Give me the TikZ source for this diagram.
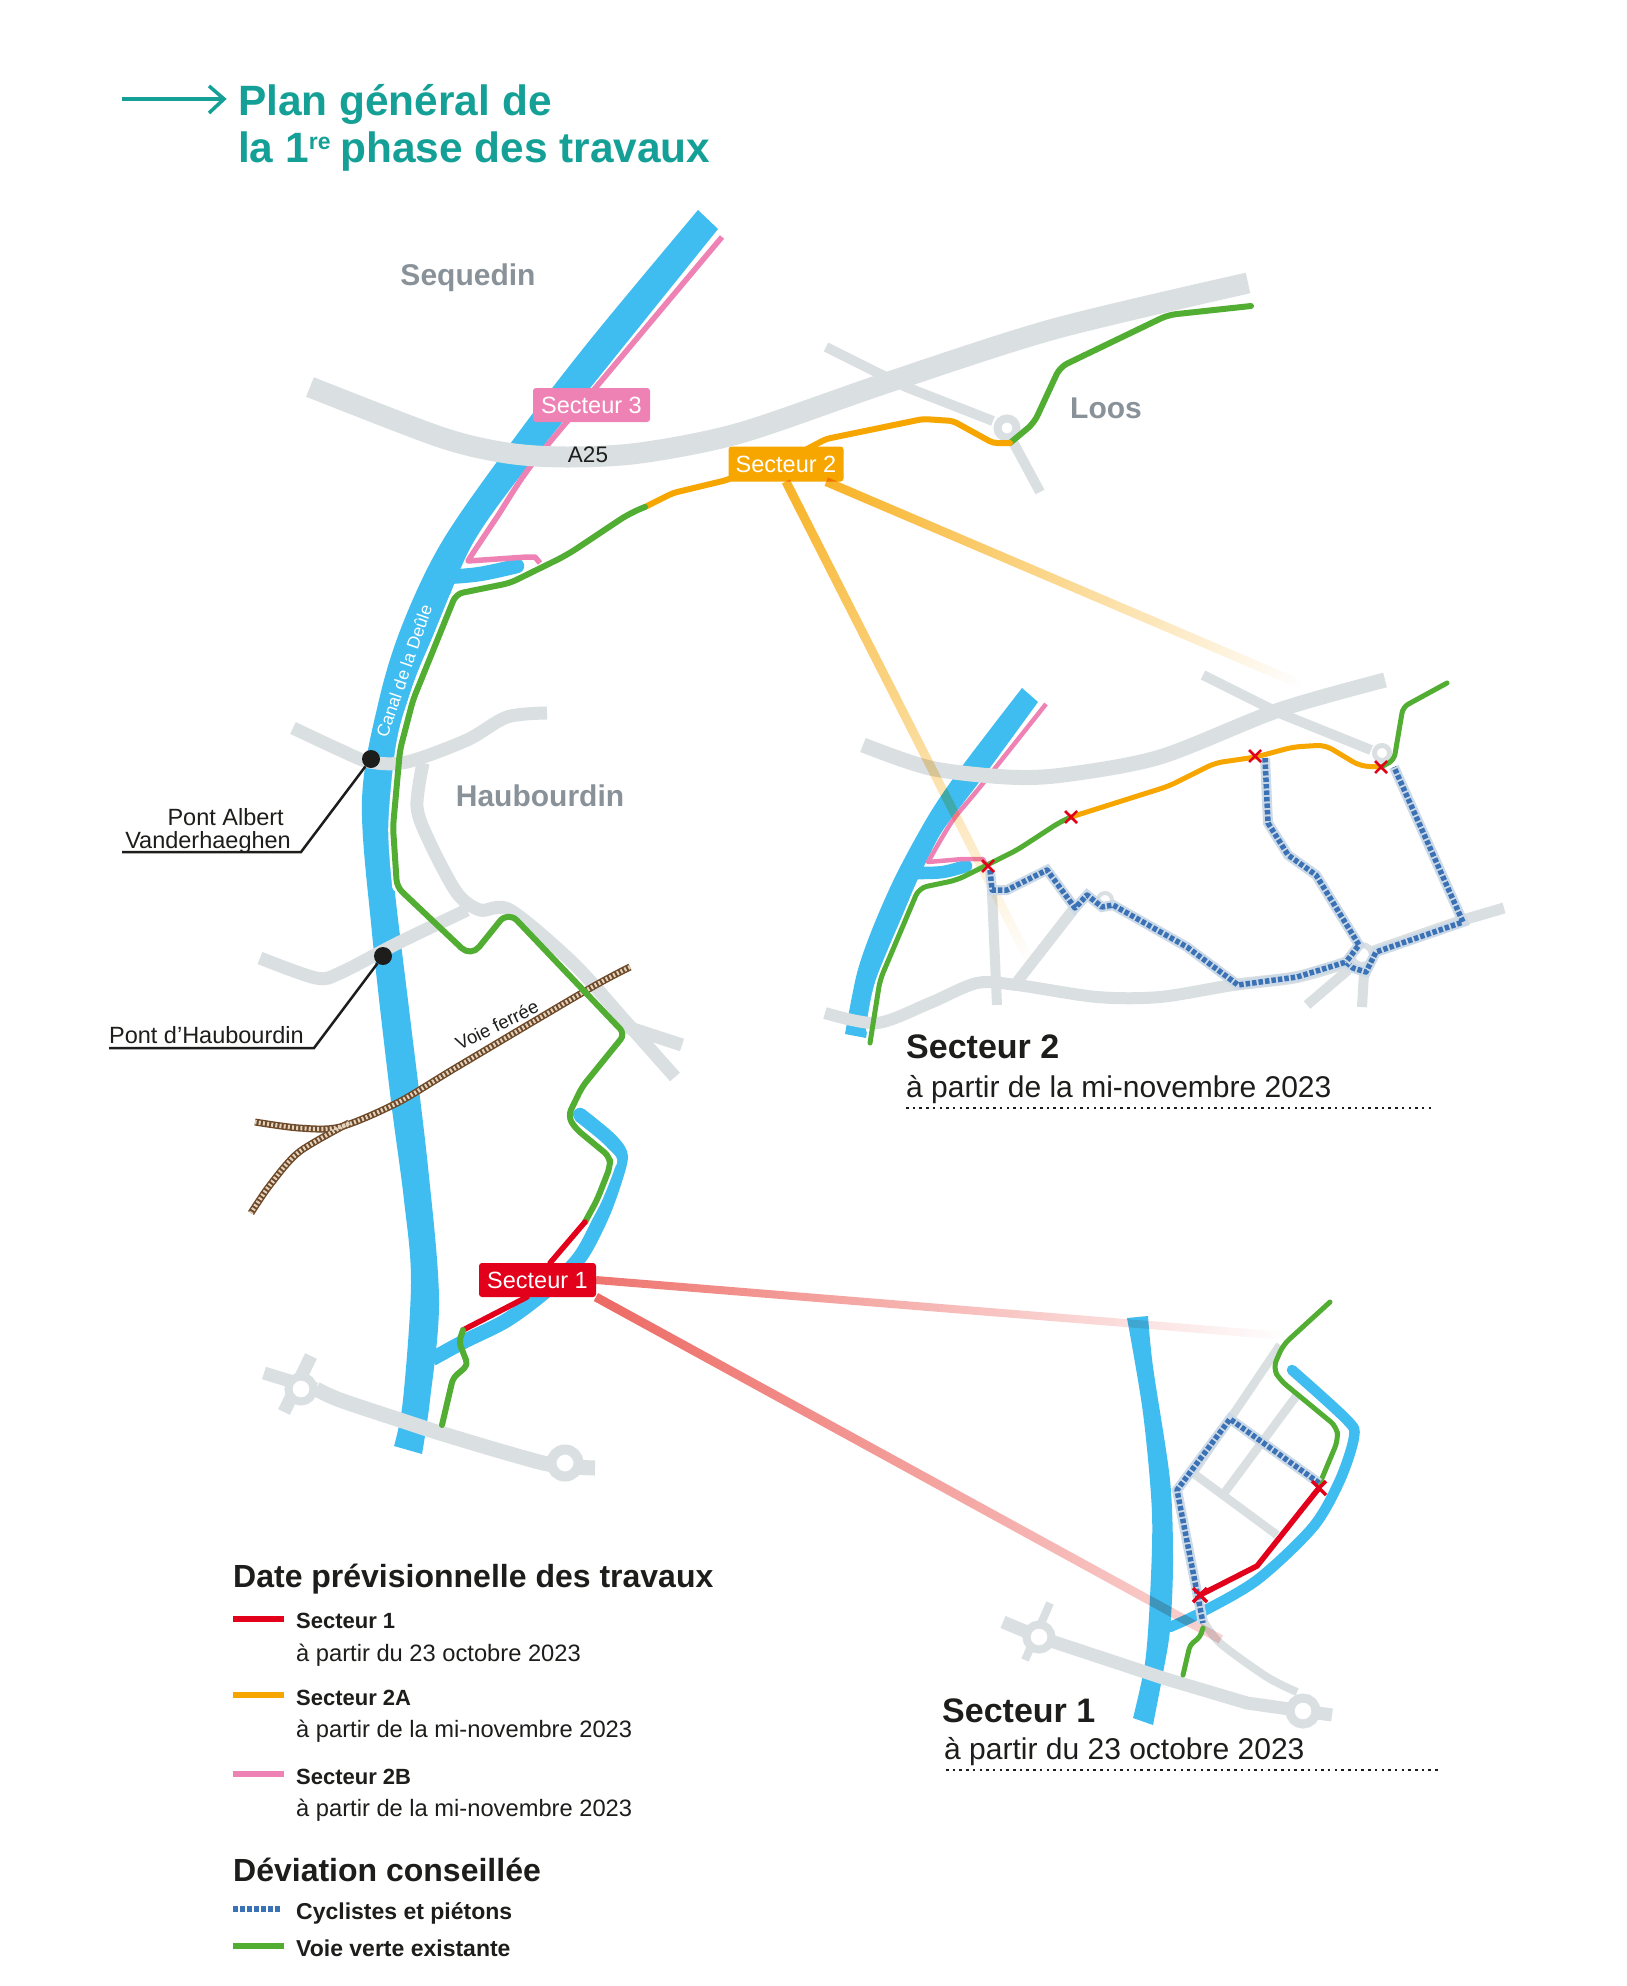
\documentclass[tikz,border=0pt]{standalone}
\usepackage{fontspec}
\setmainfont{Liberation Sans}
\usetikzlibrary{calc,fadings}
\definecolor{canal}{HTML}{40BDF0}
\definecolor{road}{HTML}{DADFE2}
\definecolor{vgreen}{HTML}{52AE32}
\definecolor{vorange}{HTML}{F7A600}
\definecolor{vpink}{HTML}{EE82B5}
\definecolor{vred}{HTML}{E2001A}
\definecolor{fred}{HTML}{E62A22}
\definecolor{vblue}{HTML}{3B72B6}
\definecolor{halo}{HTML}{CCDAE8}
\definecolor{ink}{HTML}{1D1D1B}
\definecolor{teal1}{HTML}{14A096}
\definecolor{town}{HTML}{8A9299}
\definecolor{railb}{HTML}{6E4A2A}
\definecolor{railc}{HTML}{E3D3BC}
\tikzfading[name=fadeall, left color=transparent!15, right color=transparent!100]
\tikzfading[name=fadered, left color=transparent!35, right color=transparent!100]
\tikzfading[name=fadepart, left color=transparent!30, right color=transparent!80]
\newcommand{\fsz}[1]{\fontsize{#1}{#1}\selectfont}
\newcommand{\fadeline}[5]{% colour, from, to, width, fading
  \path let \p1=($(#3)-(#2)$), \n1={veclen(\x1,\y1)}, \n2={atan2(\y1,\x1)} in
    \pgfextra{\xdef\flen{\n1}\xdef\fang{\n2}};
  \begin{scope}[transform canvas={shift={(#2)},rotate=\fang}]
    \fill[#1,path fading=#5,blend mode=multiply] (0pt,-#4/2) rectangle (\flen,#4/2);
  \end{scope}}
\tikzset{
  x=1pt,y=-1pt,
  roadA/.style={draw=road,line width=13pt,line join=round},
  roadB/.style={draw=road,line width=10pt,line join=round},
  casing/.style={draw=white,line width=9.5pt,line cap=round,line join=round},
  rgreen/.style={draw=vgreen,line width=6pt,line cap=round,line join=round},
  rorange/.style={draw=vorange,line width=6pt,line cap=round,line join=round},
  rpink/.style={draw=vpink,line width=5.5pt,line join=round},
  rred/.style={draw=vred,line width=5.5pt,line cap=round,line join=round},
  cyc/.style={draw=vblue,line width=5.5pt,dash pattern=on 4.5pt off 2pt,line join=round,
    preaction={draw=halo,line width=10pt,solid}},
  xmark/.style={draw=vred,line width=3pt},
  branch/.style={draw=canal,line width=14.5pt,line join=round,line cap=round},
  tag/.style={rounded corners=3pt,text=white,inner sep=0pt,font=\fsz{23.5}},
  townlab/.style={text=town,inner sep=0pt,font=\fsz{30}\bfseries},
  small/.style={text=ink,inner sep=0pt,font=\fsz{23.5}},
  bridgedot/.style={circle,fill=ink,inner sep=0pt,minimum size=18pt},
  leader/.style={draw=ink,line width=2.5pt,line join=miter},
  ring/.style={circle,draw=road,fill=white,inner sep=0pt},
  dotted rule/.style={draw=ink,line width=2.5pt,dash pattern=on 2.5pt off 4.2pt},
  hhead/.style={anchor=base west,inner sep=0pt,text=ink,font=\fsz{32}\bfseries},
  lbold/.style={anchor=base west,inner sep=0pt,text=ink,font=\fsz{22}\bfseries},
  lreg/.style={anchor=base west,inner sep=0pt,text=ink,font=\fsz{23.7}},
  swatch/.style={line width=6pt},
  railA/.style={draw=railb,line width=7pt},
  railB/.style={draw=railc,line width=4.2pt,dash pattern=on 2pt off 2.2pt},
}
\begin{document}
\begin{tikzpicture}
\useasboundingbox[fill=white] (0,0) rectangle (1627,1986);

% ---------- title
\coordinate (ta) at (122,99);
\coordinate (tb) at (224,99);
\coordinate (tc) at (209,86);
\coordinate (td) at (209,113);
\draw[teal1,line width=3.5pt] (ta) -- (tb);
\draw[teal1,line width=3.5pt] (tc) -- (tb) -- (td);
\node[anchor=base west,inner sep=0pt,text=teal1,font=\fsz{42.4}\bfseries] (t1) at (238,115) {Plan général de};
\node[anchor=base west,inner sep=0pt,text=teal1,font=\fsz{42.4}\bfseries] (t2) at (238,162) {la 1\raisebox{13pt}{\fsz{23}re}\hspace{-2pt} phase des travaux};

% ---------- main map: canal
\fill[canal] plot[smooth,tension=.55] coordinates {(698,210)(590,340)(513,440)(443,540)(403,623)(379,700)(362,800)(372,933)(390,1093)(404,1200)(411,1283)(403,1400)(394,1446)}
  -- plot[smooth,tension=.55] coordinates {(422,1454)(430,1400)(439,1300)(428,1167)(410,1017)(393,873)(391,800)(408,700)(440,620)(473,543)(527,467)(607,367)(718,229)} -- cycle;
\draw[branch,line cap=butt] plot[smooth,tension=.5] coordinates {(432,1359)(463,1342)(507,1320)(547,1290)(580,1257)(603,1213)(618,1170)(620,1153)(607,1137)(580,1115)};
\fill[canal] (580,1115) circle (7.2pt);
\draw[branch] plot[smooth,tension=.6] coordinates {(447,577)(480,574)(517,566)};
% pink
\draw[rpink] plot[smooth,tension=.5] coordinates {(722,237)(613,367)(533,463)(497,517)(473,553)} -- (468,561) -- (527,557) -- (535,557) -- (540,563);
% white edges of the routes along the water
\draw[casing] plot[smooth,tension=.5] coordinates {(454,597)(413,700)(400,750)(393,827)(397,887)};
\draw[casing] plot[smooth,tension=.5] coordinates {(568,1115)(575,1128)(610,1157)(610,1167)(597,1200)(585,1222)};

% roads
\draw[roadA,line width=21pt] plot[smooth,tension=.5] coordinates {(310,387)(440,437)(507,453)(567,457)(640,453)(740,433)(886,383)(1054,329)(1248,283)};
\draw[roadB] (826,347) -- (906,387) -- (993,421);
\draw[roadB] (1012,440) -- (1040,492);
\node[ring,line width=8pt,minimum size=19pt] (rbLoos) at (1007,428) {};
\draw[roadA] plot[smooth,tension=.5] coordinates {(293,728)(340,750)(370,762)(407,762)(467,740)(507,717)(547,713)};
\draw[roadA] plot[smooth,tension=.5] coordinates {(423,763)(417,807)(430,843)(457,893)(480,910)(510,910)(573,963)(627,1023)(675,1077)};
\draw[roadA] (627,1027) -- (682,1045);
\draw[roadA] plot[smooth,tension=.5] coordinates {(260,958)(316,978)(340,973)(400,942)(467,910)};
\draw[roadA,line width=15pt] plot[smooth,tension=.5] coordinates {(316,1389)(340,1400)(400,1420)(440,1433)(507,1453)(553,1465)(595,1468)};
\draw[roadA] (264,1373) -- (316,1389);
\draw[roadA] (311,1356) -- (284,1412);
\node[ring,line width=8pt,minimum size=25pt] (rbW) at (301,1389) {};
\node[ring,line width=10pt,minimum size=27pt] (rbE) at (565,1463) {};

% railway
\draw[railA] plot[smooth,tension=.5] coordinates {(630,967)(587,990)(457,1067)(397,1103)(340,1127)(299,1128)(255,1122)};
\draw[railA] plot[smooth,tension=.5] coordinates {(349,1123)(299,1152)(270,1185)(251,1213)};
\draw[railB] plot[smooth,tension=.5] coordinates {(630,967)(587,990)(457,1067)(397,1103)(340,1127)(299,1128)(255,1122)};
\draw[railB] plot[smooth,tension=.5] coordinates {(349,1123)(299,1152)(270,1185)(251,1213)};
\node[small,font=\fsz{18.5},rotate=26] (voie) at (497,1025) {Voie ferrée};

% routes main
\draw[rgreen,rounded corners=8pt] (1251,306) -- (1168,315) -- (1060,367) -- (1034,423) -- (1010,443);
\draw[rorange,rounded corners=4pt] (1010,443) -- (993,443) -- (953,421) -- (923,419) -- (826,439) -- (790,458);
\draw[rorange,rounded corners=4pt] (760,465) -- (727,480) -- (673,493) -- (645,507);
\draw[rgreen,rounded corners=7pt] (645,507) [rounded corners=12pt] -- (630,513) -- (567,555) [rounded corners=7pt] -- (510,583) -- (456,594) -- (413,700) -- (400,750) -- (393,827) -- (397,887) [rounded corners=13pt] -- (471,957) -- (508,911) [rounded corners=7pt] -- (625,1034) -- (582,1087) -- (568,1116) -- (575,1128) -- (610,1157) -- (610,1167) -- (597,1200) -- (585,1222);
\draw[rred] (585,1222) -- (550,1263);
\draw[rred] (527,1297) -- (463,1330);
\draw[rgreen,rounded corners=5pt] (463,1330) -- (459,1342) -- (468,1365) -- (453,1378) -- (442,1425);

% labels main
\node[townlab] (seq) at (468,278) {Sequedin};
\node[townlab] (loos) at (1106,408) {Loos};
\node[townlab] (haub) at (540,796) {Haubourdin};
\node[small,font=\fsz{22.5}] (a25) at (588,455) {A25};
\node[text=white,inner sep=0pt,font=\fsz{17.5},rotate=71] (canaln) at (404,671) {Canal de la Deûle};
\node[tag,fill=vpink,minimum width=117pt,minimum height=34pt] (sec3) at (591.5,405) {Secteur 3};
\node[tag,fill=vorange,minimum width=115pt,minimum height=35pt] (sec2) at (786,464) {Secteur 2};
\node[tag,fill=vred,minimum width=117pt,minimum height=34pt] (sec1) at (537.5,1280) {Secteur 1};

% bridges
\node[bridgedot] (dotA) at (371,759) {};
\node[bridgedot] (dotB) at (383,956) {};
\coordinate (la) at (301,852);
\coordinate (lb) at (122,852);
\coordinate (lc) at (314,1048);
\coordinate (ld) at (109,1048);
\draw[leader] (dotA) -- (la) -- (lb);
\draw[leader] (dotB) -- (lc) -- (ld);
\node[small,anchor=east] (pa1) at (284,817) {Pont Albert};
\node[small,anchor=east] (pa2) at (291,842) {Vanderhaeghen};
\node[small,anchor=east] (pb1) at (304,1035) {Pont d’Haubourdin};

% ---------- inset secteur 2: base
\fill[canal] plot[smooth,tension=.5] coordinates {(1022,688)(963,765)(930,813)(897,873)(873,927)(857,973)(845,1034)}
  -- plot[smooth,tension=.5] coordinates {(866,1038)(877,980)(890,947)(913,890)(927,860)(943,830)(977,785)(992,765)(1038,702)} -- cycle;
\draw[branch,line width=12.5pt] plot[smooth,tension=.6] coordinates {(918,873)(943,872)(966,866)};
\draw[rpink,line width=4.5pt] plot[smooth,tension=.5] coordinates {(1046,704)(980,787)(953,820)(932,855)} -- (928,862) -- (963,859) -- (983,859) -- (987,867);
\draw[casing,line width=8pt] plot[smooth,tension=.5] coordinates {(870,1030)(880,980)(919,888)};
\draw[roadA,line width=15pt] plot[smooth,tension=.5] coordinates {(863,745)(930,768)(1007,777)(1063,775)(1160,757)(1279,710)(1385,680)};
\draw[roadB] (1203,675) -- (1279,713) -- (1371,750);
\node[ring,line width=5pt,minimum size=15pt] (rb2a) at (1382,753) {};
\draw[roadA,line width=12pt] plot[smooth,tension=.5] coordinates {(825,1013)(877,1023)(930,1003)(977,983)(1017,985)(1097,997)(1160,997)(1233,985)(1297,977)(1348,962)};
\draw[roadA,line width=11pt] (1362,955) -- (1463,920) -- (1504,908);
\draw[roadB] (992,893) -- (997,1005);
\draw[roadB,line width=11pt] (1073,910) -- (1017,982);
\draw[roadB] (1307,1005) -- (1348,970);
\draw[roadB] (1362,1007) -- (1364,973);
\node[ring,line width=4pt,minimum size=14pt] (rb2b) at (1105,900) {};
\node[ring,line width=6pt,minimum size=20pt] (rb2c) at (1362,955) {};

% ---------- inset secteur 1: base
\fill[canal] plot[smooth,tension=.5] coordinates {(1127,1318)(1143,1413)(1152,1513)(1150,1597)(1145,1663)(1133,1718)}
  -- plot[smooth,tension=.5] coordinates {(1153,1725)(1163,1673)(1170,1630)(1173,1563)(1170,1480)(1153,1367)(1148,1316)} -- cycle;
\draw[branch,line width=10.5pt] plot[smooth,tension=.5] coordinates {(1170,1627)(1200,1613)(1257,1580)(1313,1527)(1340,1480)(1354,1437)(1347,1420)(1292,1370)};
\draw[roadA,line width=8.5pt] (1280,1345) -- (1230,1419) -- (1193,1473) -- (1277,1535);
\draw[roadA,line width=8.5pt] (1297,1395) -- (1225,1492);
\draw[roadA,line width=13pt] (1003,1622) -- (1039,1637) -- (1163,1678) -- (1247,1703) -- (1332,1715);
\draw[roadA,line width=8pt] (1050,1603) -- (1025,1660);
\draw[roadA,line width=8pt] plot[smooth,tension=.5] coordinates {(1203,1620)(1220,1643)(1267,1677)(1297,1692)};
\node[ring,line width=8pt,minimum size=25pt] (rb1a) at (1039,1637) {};
\node[ring,line width=9pt,minimum size=26pt] (rb1b) at (1303,1711) {};

% ---------- fading connectors
\coordinate (s2a) at (sec2.south);
\coordinate (s2b) at ($(sec2.south)!.7!(sec2.south east)$);
\coordinate (e2a) at (1030,962);
\coordinate (e2b) at (1300,684);
\coordinate (s1a) at (sec1.east);
\coordinate (s1b) at (sec1.south east);
\coordinate (e1a) at (1285,1336);
\coordinate (e1b) at (1222,1640);
\fadeline{vorange}{s2a}{e2a}{9pt}{fadeall}
\fadeline{vorange}{s2b}{e2b}{9pt}{fadeall}
\fadeline{fred}{s1a}{e1a}{8pt}{fadered}
\fadeline{fred}{s1b}{e1b}{9pt}{fadepart}

% ---------- inset secteur 2: routes
\draw[rgreen,line width=5pt,rounded corners=8pt] (870,1043) -- (880,980) -- (919,888) -- (957,880) -- (987,865) -- (1017,850) -- (1060,822) -- (1071,817);
\draw[rorange,line width=5pt,rounded corners=8pt] (1071,817) -- (1169,786) -- (1215,763) -- (1256,757) -- (1293,747) -- (1325,745) -- (1360,766) -- (1381,767);
\draw[rgreen,line width=5pt,rounded corners=6pt] (1381,767) -- (1394,760) -- (1403,707) -- (1447,683);
\draw[cyc] (990,870) -- (992,890) -- (1007,890) -- (1047,870) -- (1075,908) -- (1087,895) -- (1102,907) -- (1113,905) -- (1187,947) -- (1238,985) -- (1297,977) -- (1346,962) -- (1353,968) -- (1366,972) -- (1376,952) -- (1463,922) -- (1394,767);
\draw[cyc] (1265,758) -- (1268,823) -- (1288,855) -- (1316,875) -- (1359,945) -- (1346,962);
\foreach \px/\py in {988/866,1071/817,1255/756,1381/767}{
  \draw[xmark,line width=2.5pt] (\px-6,\py-6) -- (\px+6,\py+6) (\px-6,\py+6) -- (\px+6,\py-6);
}
\node[anchor=base west,inner sep=0pt,text=ink,font=\fsz{34}\bfseries] (h2) at (906,1058) {Secteur 2};
\node[anchor=base west,inner sep=0pt,text=ink,font=\fsz{30}] (s2) at (906,1097) {à partir de la mi-novembre 2023};
\coordinate (u2a) at (906,1108);
\coordinate (u2b) at (1433,1108);
\draw[dotted rule] (u2a) -- (u2b);

% ---------- inset secteur 1: routes
\draw[rgreen,line width=5pt,rounded corners=8pt] (1330,1302) -- (1283,1345) -- (1273,1368) -- (1280,1380) -- (1337,1427) -- (1338,1440) -- (1320,1483);
\draw[rgreen,line width=5pt,rounded corners=4pt] (1203,1628) -- (1200,1637) -- (1190,1645) -- (1183,1675);
\draw[cyc] (1319,1483) -- (1230,1419) -- (1177,1490) -- (1203,1623);
\draw[rred] (1319,1488) -- (1257,1566) -- (1200,1595);
\foreach \px/\py in {1319/1488,1200/1595}{
  \draw[xmark,line width=3.5pt] (\px-7,\py-7) -- (\px+7,\py+7) (\px-7,\py+7) -- (\px+7,\py-7);
}
\node[anchor=base west,inner sep=0pt,text=ink,font=\fsz{34}\bfseries] (h1) at (942,1722) {Secteur 1};
\node[anchor=base west,inner sep=0pt,text=ink,font=\fsz{30}] (s1) at (944,1759) {à partir du 23 octobre 2023};
\coordinate (u1a) at (946,1770);
\coordinate (u1b) at (1440,1770);
\draw[dotted rule] (u1a) -- (u1b);

% ---------- legend
\node[hhead] (lh1) at (233,1587) {Date prévisionnelle des travaux};
\coordinate (k1a) at (233,1619); \coordinate (k1b) at (284,1619);
\draw[swatch,vred] (k1a) -- (k1b);
\node[lbold] (l1) at (296,1628) {Secteur 1};
\node[lreg] (l1b) at (296,1661) {à partir du 23 octobre 2023};
\coordinate (k2a) at (233,1695); \coordinate (k2b) at (284,1695);
\draw[swatch,vorange] (k2a) -- (k2b);
\node[lbold] (l2) at (296,1705) {Secteur 2A};
\node[lreg] (l2b) at (296,1737) {à partir de la mi-novembre 2023};
\coordinate (k3a) at (233,1774); \coordinate (k3b) at (284,1774);
\draw[swatch,vpink] (k3a) -- (k3b);
\node[lbold] (l3) at (296,1784) {Secteur 2B};
\node[lreg] (l3b) at (296,1816) {à partir de la mi-novembre 2023};
\node[hhead] (lh2) at (233,1881) {Déviation conseillée};
\coordinate (k4a) at (233,1909); \coordinate (k4b) at (281,1909);
\draw[swatch,vblue,dash pattern=on 5pt off 2pt] (k4a) -- (k4b);
\node[lbold,font=\fsz{23}\bfseries] (l4) at (296,1919) {Cyclistes et piétons};
\coordinate (k5a) at (233,1946); \coordinate (k5b) at (284,1946);
\draw[swatch,vgreen] (k5a) -- (k5b);
\node[lbold,font=\fsz{23}\bfseries] (l5) at (296,1956) {Voie verte existante};
\end{tikzpicture}
\end{document}
